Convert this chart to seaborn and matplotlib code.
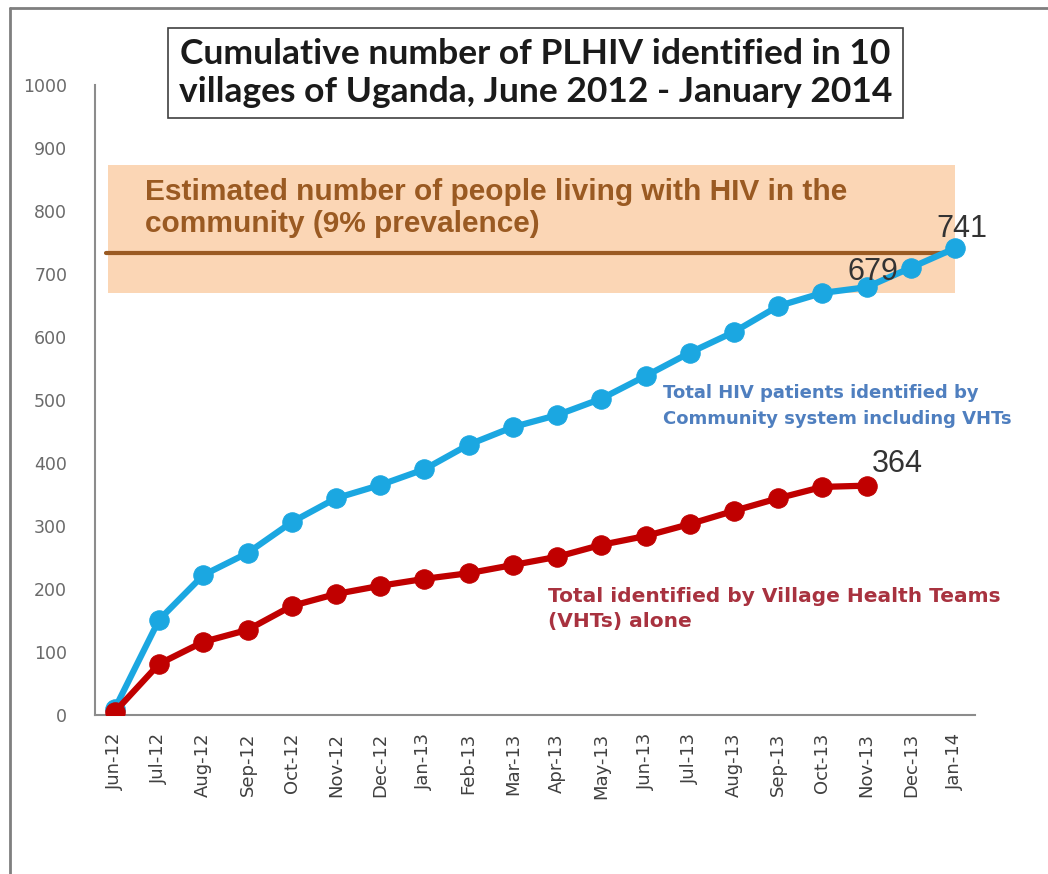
"""Cumulative number of PLHIV identified in 10 villages of Uganda."""

import matplotlib

matplotlib.use("Agg")
import matplotlib.pyplot as plt
import numpy as np
import pandas as pd
import seaborn as sns
from matplotlib.lines import Line2D

months = [
    "Jun-12", "Jul-12", "Aug-12", "Sep-12", "Oct-12", "Nov-12", "Dec-12",
    "Jan-13", "Feb-13", "Mar-13", "Apr-13", "May-13", "Jun-13", "Jul-13",
    "Aug-13", "Sep-13", "Oct-13", "Nov-13", "Dec-13", "Jan-14",
]
community_total = [10, 151, 222, 257, 306, 344, 365, 390, 429, 457, 476,
                   502, 538, 575, 608, 649, 670, 679, 710, 741]
vht_total = [5, 81, 116, 135, 173, 192, 205, 216, 225, 238, 251, 270,
             284, 303, 324, 344, 362, 364]

estimate_line = 733
estimate_low = 670
estimate_high = 873
y_ticks = [0, 100, 200, 300, 400, 500, 600, 700, 800, 900, 1000]

blue = "#1ba7e1"
red = "#c00000"
brown = "#9a5a22"

sns.set_style("white")
plt.rcParams["font.family"] = ["Liberation Sans", "DejaVu Sans"]

community_df = pd.DataFrame({"pos": np.arange(len(community_total)), "value": community_total})
vht_df = pd.DataFrame({"pos": np.arange(len(vht_total)), "value": vht_total})

fig = plt.figure(figsize=(10.48, 8.74), dpi=100)
ax = fig.add_axes([0.0906, 0.182, 0.8397, 0.7207])

# estimate band and line
ax.fill_between([-0.15, 19.0], estimate_low, estimate_high, color="#fbcfa8",
                alpha=0.85, lw=0, zorder=1)
ax.plot([-0.2, 19.1], [estimate_line, estimate_line], color=brown, lw=3, zorder=2)

sns.lineplot(data=community_df, x="pos", y="value", ax=ax, color=blue, lw=4.5,
             marker="o", markersize=14, markeredgecolor=blue, zorder=3)
sns.lineplot(data=vht_df, x="pos", y="value", ax=ax, color=red, lw=4.5,
             marker="o", markersize=14, markeredgecolor=red, zorder=4)

ax.set_xlim(-0.45, 19.45)
ax.set_ylim(0, 1000)
ax.set_xticks(np.arange(len(months)))
ax.set_xticklabels(months, rotation=90, fontsize=13, color="#404040",
                   family=["DejaVu Sans"])
ax.set_yticks(y_ticks)
ax.set_yticklabels([str(v) for v in y_ticks], fontsize=12.5, color="#6a6a6a",
                   family=["DejaVu Sans"])
ax.tick_params(axis="y", length=0, pad=20)
ax.tick_params(axis="x", length=0, pad=13)
ax.set_xlabel("")
ax.set_ylabel("")
for side in ["top", "right"]:
    ax.spines[side].set_visible(False)
for side in ["left", "bottom"]:
    ax.spines[side].set_color("#8c8c8c")
    ax.spines[side].set_linewidth(1.5)

# text annotations
ax.text(0.68, 852, "Estimated number of people living with HIV in the\ncommunity (9% prevalence)",
        fontsize=21.5, fontweight="bold", color=brown, va="top", ha="left",
        linespacing=1.15, zorder=5)
ax.text(12.4, 525, "Total HIV patients identified by\nCommunity system including VHTs",
        fontsize=13, fontweight="bold", color="#4f7fbf", va="top", ha="left",
        family=["DejaVu Sans"], linespacing=1.55, zorder=5)
ax.text(9.8, 203, "Total identified by Village Health Teams\n(VHTs) alone",
        fontsize=14.5, fontweight="bold", color="#a8323f", va="top", ha="left",
        family=["DejaVu Sans"], linespacing=1.4, zorder=5)
ax.text(19.15, 748, "741", fontsize=22, color="#333333", ha="center", va="bottom", zorder=6)
ax.text(17.15, 680, "679", fontsize=22, color="#333333", ha="center", va="bottom", zorder=6)
ax.text(17.7, 374, "364", fontsize=22, color="#333333", ha="center", va="bottom", zorder=6)

fig.text(0.511, 0.9165,
         "Cumulative number of PLHIV identified in 10\nvillages of Uganda, June 2012 - January 2014",
         fontsize=25.5, fontweight="bold", color="#1a1a1a", ha="center", va="center",
         family=["Lato", "DejaVu Sans"], linespacing=1.2,
         bbox=dict(boxstyle="square,pad=0.3", fc="white", ec="#404040", lw=1.2))

# outer frame lines (left and top)
fig.add_artist(Line2D([0.0095, 0.0095], [0.0, 0.991], color="#7f7f7f", lw=2,
                      transform=fig.transFigure))
fig.add_artist(Line2D([0.0095, 1.0], [0.991, 0.991], color="#7f7f7f", lw=2,
                      transform=fig.transFigure))

fig.savefig("out.png", dpi=100)
plt.close(fig)
